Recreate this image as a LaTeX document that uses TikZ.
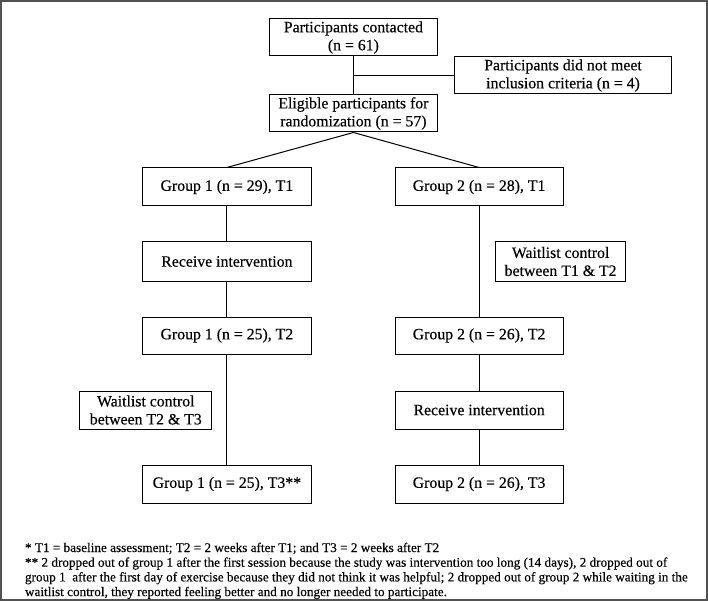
\documentclass[tikz,border=0pt]{standalone}
\usepackage{fontspec}
\setmainfont{Liberation Serif}[FakeBold=0.3]
\begin{document}
\begin{tikzpicture}[x=1pt,y=-1pt,
  box/.style={draw=black, line width=1pt, align=center, inner sep=0pt,
    font=\fontsize{15.8}{18}\selectfont},
  link/.style={draw=black, line width=1pt}]
\useasboundingbox (0,0) rectangle (708,601);
\draw[draw=black!68, line width=2pt] (1,1) rectangle (706.5,599.5);

\node[box, minimum width=167.5pt, minimum height=37pt] (contacted) at (353.4,37.5) {Participants contacted\\(n = 61)};
\node[box, minimum width=216.7pt, minimum height=37pt] (notmet) at (563,75.5) {Participants did not meet\\inclusion criteria (n = 4)};
\node[box, minimum width=167.5pt, minimum height=37pt] (eligible) at (353.4,113.5) {Eligible participants for\\randomization (n = 57)};

\node[box, minimum width=168.4pt, minimum height=38pt] (g1t1) at (226.9,187) {Group 1 (n = 29), T1};
\node[box, minimum width=168pt, minimum height=38pt] (g2t1) at (479.1,187) {Group 2 (n = 28), T1};
\node[box, minimum width=168.4pt, minimum height=39pt] (g1int) at (226.9,261.5) {Receive intervention};
\node[box, minimum width=129.6pt, minimum height=39pt] (wait1) at (560.6,261.5) {Waitlist control\\between T1 \& T2};
\node[box, minimum width=168.4pt, minimum height=37pt] (g1t2) at (226.9,335.5) {Group 1 (n = 25), T2};
\node[box, minimum width=168pt, minimum height=37pt] (g2t2) at (479.1,335.5) {Group 2 (n = 26), T2};
\node[box, minimum width=131.9pt, minimum height=38pt] (wait2) at (145.8,410) {Waitlist control\\between T2 \& T3};
\node[box, minimum width=168pt, minimum height=38pt] (g2int) at (479.1,410) {Receive intervention};
\node[box, minimum width=168.4pt, minimum height=38pt] (g1t3) at (226.9,484) {Group 1 (n = 25), T3**};
\node[box, minimum width=168pt, minimum height=38pt] (g2t3) at (479.1,484) {Group 2 (n = 26), T3};

\coordinate (junction) at (353.4,75.5);
\draw[link] (contacted.south) -- (eligible.north);
\draw[link] (junction) -- (notmet.west);
\draw[link] (eligible.south) -- (g1t1.north);
\draw[link] (eligible.south) -- (g2t1.north);
\draw[link] (g1t1) -- (g1int);
\draw[link] (g1int) -- (g1t2);
\draw[link] (g1t2) -- (g1t3);
\draw[link] (g2t1) -- (g2t2);
\draw[link] (g2t2) -- (g2int);
\draw[link] (g2int) -- (g2t3);

\node[anchor=north west, inner sep=0pt, align=left,
  font=\fontsize{13.2}{14.7}\selectfont] (notes) at (24.8,542.5)
{* T1 = baseline assessment; T2 = 2 weeks after T1; and T3 = 2 weeks after T2\\
** 2 dropped out of group 1 after the first session because the study was intervention too long (14 days), 2 dropped out of\\
group 1\ \ after the first day of exercise because they did not think it was helpful; 2 dropped out of group 2 while waiting in the\\
waitlist control, they reported feeling better and no longer needed to participate.};
\end{tikzpicture}
\end{document}
